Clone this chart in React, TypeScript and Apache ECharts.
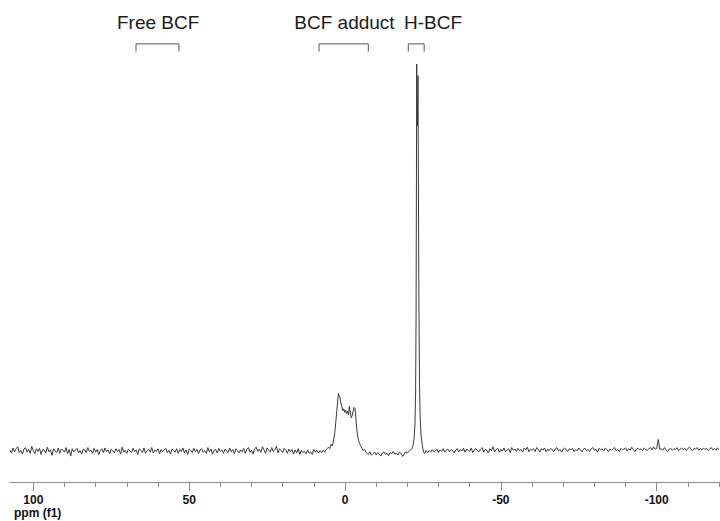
import React, { useEffect, useRef } from "react";
import * as echarts from "echarts";

// ---------- axis / data ----------
const AXIS_MIN = -120.3;
const AXIS_MAX = 107.5;
const Y_MIN = -8;
const Y_MAX = 100;
const STEP = 0.5;

// baseline noise, 107.5 ppm .. 6.0 ppm, step 0.5
const baseAStart = 107.5;
const baseA: number[] = [
  0.3, -0.5, 0.8, -0.2, 0.6, 1.1, -0.4, 0.2, -0.8, 0.5, 0.9, -0.3, 0.4, -0.6, 1.2, 0.1, -0.7, 0.6, -0.1, 0.7,
  -0.9, 0.4, 0.2, -0.5, 1.0, -0.2, 0.3, -1.1, 0.6, 0.0, -0.4, 0.8, -0.6, 0.5, 0.2, -0.3, 0.9, -0.7, 0.4, -1.3,
  0.6, -0.2, 0.3, 0.7, -0.5, 0.1, -0.8, 0.5, 0.3, -0.4, 0.9, -0.1, 0.2, -0.6, 0.7, -0.3, 0.4, -0.9, 0.2, 0.6,
  -0.4, 0.8, -0.2, 0.3, -0.7, 0.5, 0.1, -0.5, 0.6, -0.1, 0.4, -0.8, 1.0, -0.3, 0.2, -0.6, 0.5, 0.0, -0.4, 0.7,
  -0.2, 0.3, -0.9, 0.6, 0.2, -0.4, 0.8, -0.6, 0.1, 0.5, -0.3, 0.9, -0.5, 0.2, -0.1, 0.6, -0.7, 0.4, -0.2, 0.3,
  0.7, -0.4, 0.2, -0.8, 0.5, 0.1, -0.3, 0.6, -0.6, 0.4, -0.1, 0.8, -0.5, 0.3, -0.9, 0.5, 0.2, -0.4, 0.7, -0.2,
  0.4, -0.7, 0.3, 0.6, -0.3, 0.1, -0.6, 0.9, -0.2, 0.5, -0.8, 0.2, 0.4, -0.5, 0.7, -0.1, 0.3, -0.6, 0.5, 0.0,
  -0.4, 0.8, -0.2, 0.4, -0.7, 0.6, 0.1, -0.5, 0.3, -0.2, 0.7, -0.6, 0.4, 0.9, -0.3, 0.2, -0.8, 0.6, 1.0, -0.1,
  0.5, -0.4, 1.1, 0.3, -0.6, 0.8, 0.2, -0.3, 0.9, -0.2, 0.4, 1.2, -0.5, 0.6, 0.1, -0.4, 0.7, 0.3, -0.6, 0.5,
  -0.2, 0.4, -0.8, 0.3, -0.5, 0.6, -0.9, 0.2, -0.4, -0.1, -0.7, 0.3, -0.6, -0.2, -0.9, 0.4, -0.3, 0.2, -0.5, 0.1,
  -0.4, 0.2, -0.3, 0.4,
];

// BCF adduct region [ppm, intensity]
const adductPeak: [number, number][] = [
  [5.8, 0.4], [5.3, 1.0], [4.9, 0.6], [4.5, 1.7], [4.1, 1.3], [3.7, 2.6], [3.3, 4.6], [3.0, 7.0],
  [2.7, 9.8], [2.4, 12.6], [2.1, 14.9], [1.85, 14.3], [1.6, 13.8], [1.3, 12.4], [1.0, 11.5], [0.7, 10.4],
  [0.4, 10.9], [0.1, 10.0], [-0.2, 10.6], [-0.5, 9.7], [-0.8, 10.3], [-1.1, 9.4], [-1.4, 11.5], [-1.7, 9.8],
  [-2.0, 8.6], [-2.3, 9.1], [-2.6, 10.2], [-2.9, 11.3], [-3.2, 11.0], [-3.5, 8.4], [-3.8, 5.5], [-4.1, 3.6],
  [-4.4, 2.7], [-4.7, 1.9], [-5.0, 1.4], [-5.4, 0.8], [-5.8, 0.1], [-6.3, 0.4], [-6.7, -0.3],
];

// baseline noise, -7.0 .. -21.0 ppm, step 0.5
const baseCStart = -7.0;
const baseC: number[] = [
  -0.5, -0.9, -0.2, -1.1, -0.6, -0.3, -1.0, -0.4, -0.8, -1.3, -0.5, -0.2, -0.9, -0.6, -1.2,
  -0.4, -0.7, -0.1, -0.8, -0.5, -1.0, -0.3, -0.6, -1.4, -0.7, -0.2, -0.5, -0.1, 0.3,
];

// H-BCF doublet [ppm, intensity]
const hbcfPeak: [number, number][] = [
  [-21.5, 0.6], [-21.9, 1.8], [-22.2, 3.5], [-22.45, 7], [-22.65, 15], [-22.8, 35], [-22.92, 70],
  [-23.0, 100], [-23.12, 88], [-23.25, 84], [-23.4, 97], [-23.55, 70], [-23.7, 40], [-23.9, 18],
  [-24.1, 9], [-24.4, 4], [-24.8, 1.5], [-25.2, -0.3],
];

// baseline noise, -25.5 .. -120.0 ppm, step 0.5
const baseDStart = -25.5;
const baseD: number[] = [
  -0.6, 0.2, -0.4, 0.1, -0.3, 0.4, -0.2, 0.0, 0.5, -0.4, 0.3, -0.1, 0.6, -0.3, 0.2, 0.5, -0.2, 0.4, 0.1, -0.5,
  0.3, 0.6, -0.2, 0.4, 0.0, 0.7, -0.3, 0.5, 0.2, -0.1, 0.8, -0.4, 0.3, 0.6, 0.1, -0.2, 0.5, 0.9, -0.3, 0.4,
  0.2, -0.5, 0.6, 0.1, 1.1, -0.2, 0.4, 0.7, -0.3, 0.5, 0.0, 0.8, -0.2, 0.3, 0.6, -0.4, 0.9, 0.2, 0.5, -0.1,
  0.7, 0.1, 0.4, -0.3, 0.8, 0.3, 1.0, -0.2, 0.5, 0.2, 0.6, -0.1, 0.9, 0.4, -0.3, 0.6, 0.2, 0.8, -0.2, 0.5,
  0.1, 0.7, 0.3, -0.2, 0.6, 0.9, 0.0, 0.4, -0.3, 0.5, 0.8, 0.2, -0.1, 0.6, 0.3, 0.7, -0.2, 0.4, 0.1, 0.8,
  0.3, -0.2, 0.5, 0.7, 0.1, 0.4, -0.1, 0.6, 0.9, 0.2, 0.5, -0.3, 0.7, 0.3, 0.6, 0.0, 0.8, 0.4, -0.2, 0.5,
  0.2, 0.6, 0.9, 0.1, 0.4, -0.2, 0.7, 0.3, 0.5, 0.8, 0.0, 0.6, 0.2, 1.0, 0.4, -0.1, 0.5, 0.7, 0.3, 0.6,
  0.1, 0.8, 0.4, 0.2, 0.6, 0.9, 0.3, 1.1, 0.5, 0.7, 3.0, 0.4, 0.6, 0.2, 0.9, 0.3, -0.1, 0.5, 0.7, 0.2,
  0.6, 0.4, 0.9, 0.1, 0.5, 0.8, 0.3, 0.7, 0.2, 0.6, 1.0, 0.4, 0.1, 0.7, 0.5, 0.9, 0.2, 0.6, 0.3, 0.8,
  0.4, 0.7, 0.1, 0.5, 0.9, 0.3, 0.6, 0.2, 0.8, 0.4,
];

// annotations
const annotationNames = ["Free BCF", "BCF adduct", "H-BCF"];
const bracketFrom = [67.05, 8.34, -20.3];
const bracketTo = [53.26, -7.48, -25.4];
const labelLeft = [73.15, 16.27, -18.93];
const BRACKET_TOP = 105.2;
const BRACKET_BOTTOM = 103.2;
const LABEL_Y = 110.6;

// tick labels
const majorTicks = [100, 50, 0, -50, -100];

function toPoints(start: number, values: number[]): [number, number][] {
  return values.map((v, i) => [+(start - i * STEP).toFixed(2), v]);
}

const spectrum: [number, number][] = [
  ...toPoints(baseAStart, baseA),
  ...adductPeak,
  ...toPoints(baseCStart, baseC),
  ...hbcfPeak,
  ...toPoints(baseDStart, baseD),
];

// ---------- layout ----------
const PX_ZERO = 345; // pixel of 0 ppm
const PX_PER_PPM = 3.117;
const TOP = 64;
const BOTTOM = 39;
const W = 720;
const pxOf = (ppm: number) => PX_ZERO - ppm * PX_PER_PPM;

const FONT = '"Liberation Sans", Arial, sans-serif';
const AXIS_COLOR = "#8a8a8a";

export default function App() {
  const ref = useRef<HTMLDivElement>(null);
  useEffect(() => {
    const chart = echarts.init(ref.current!, null, { renderer: "svg" });
    const hiddenY = (gridIndex: number) => ({
      type: "value",
      gridIndex,
      min: Y_MIN,
      max: Y_MAX,
      show: false,
    });
    const option: any = {
      animation: false,
      backgroundColor: "#ffffff",
      grid: [
        { left: pxOf(AXIS_MAX), right: W - pxOf(AXIS_MIN), top: TOP, bottom: BOTTOM },
        { left: pxOf(100), right: W - pxOf(-120), top: TOP, bottom: BOTTOM },
        { left: pxOf(100), right: W - pxOf(-100), top: TOP, bottom: BOTTOM },
      ],
      xAxis: [
        {
          type: "value",
          gridIndex: 0,
          inverse: true,
          min: AXIS_MIN,
          max: AXIS_MAX,
          axisLine: { show: true, onZero: false, lineStyle: { color: AXIS_COLOR, width: 1 } },
          axisTick: { show: false },
          axisLabel: { show: false },
          splitLine: { show: false },
        },
        {
          type: "value",
          gridIndex: 1,
          inverse: true,
          min: -120,
          max: 100,
          interval: 10,
          axisLine: { show: false, onZero: false },
          axisTick: { show: true, length: 5, lineStyle: { color: AXIS_COLOR, width: 1 } },
          axisLabel: { show: false },
          splitLine: { show: false },
        },
        {
          type: "value",
          gridIndex: 2,
          inverse: true,
          min: -100,
          max: 100,
          interval: 50,
          axisLine: { show: false, onZero: false },
          axisTick: { show: true, length: 9, lineStyle: { color: AXIS_COLOR, width: 1 } },
          axisLabel: {
            show: true,
            margin: 12,
            fontSize: 12,
            lineHeight: 12,
            fontWeight: "bold",
            fontFamily: FONT,
            color: "#111",
            formatter: (v: number) => (majorTicks.includes(v) ? String(v) : ""),
          },
          splitLine: { show: false },
        },
      ],
      yAxis: [hiddenY(0), hiddenY(1), hiddenY(2)],
      graphic: [
        {
          type: "text",
          left: 14,
          top: 506,
          style: { text: "ppm (f1)", font: `bold 12px ${FONT}`, fill: "#111", lineHeight: 13 },
        },
      ],
      series: [
        {
          type: "line",
          xAxisIndex: 0,
          yAxisIndex: 0,
          data: spectrum,
          showSymbol: false,
          silent: true,
          lineStyle: { color: "#3a3a3a", width: 1 },
        },
        {
          type: "custom",
          xAxisIndex: 0,
          yAxisIndex: 0,
          clip: false,
          silent: true,
          data: annotationNames.map((_, i) => [0, 0, i]),
          renderItem: (params: any, api: any) => {
            const i = params.dataIndex;
            const a = api.coord([bracketFrom[i], BRACKET_BOTTOM]);
            const b = api.coord([bracketFrom[i], BRACKET_TOP]);
            const c = api.coord([bracketTo[i], BRACKET_TOP]);
            const d = api.coord([bracketTo[i], BRACKET_BOTTOM]);
            const t = api.coord([labelLeft[i], LABEL_Y]);
            return {
              type: "group",
              children: [
                {
                  type: "polyline",
                  shape: { points: [a, b, c, d] },
                  style: { stroke: "#555", fill: null, lineWidth: 1 },
                },
                {
                  type: "text",
                  x: t[0],
                  y: t[1],
                  style: {
                    text: annotationNames[i],
                    font: `19px ${FONT}`,
                    fill: "#1a1a1a",
                    align: "left",
                    verticalAlign: "middle",
                  },
                },
              ],
            };
          },
        },
      ],
    };
    chart.setOption(option);
    return () => chart.dispose();
  }, []);
  return (
    <div
      ref={ref}
      style={{ position: "absolute", left: 0, top: 0, width: W, height: 521 }}
    />
  );
}
